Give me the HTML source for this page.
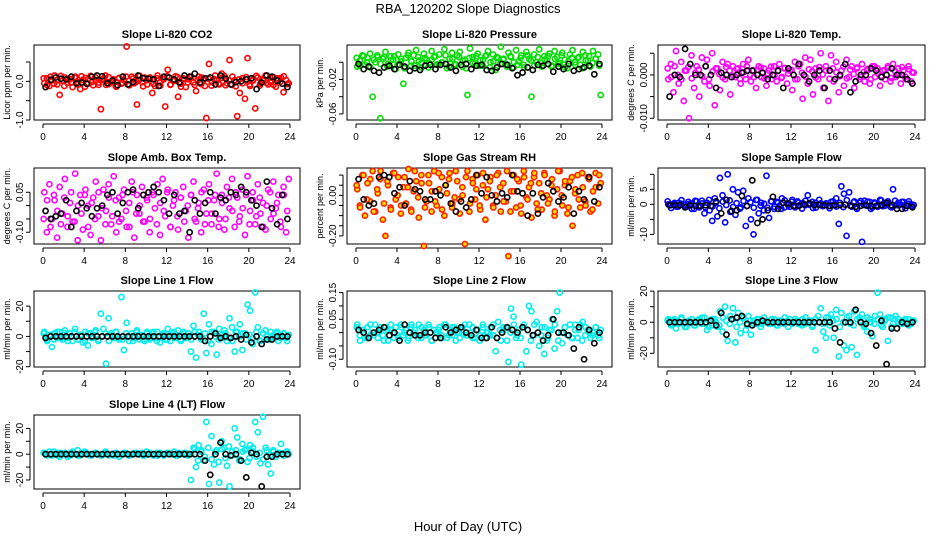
<!DOCTYPE html>
<html><head><meta charset="utf-8">
<style>
html,body{margin:0;padding:0;background:#fff;}
svg{display:block;font-family:"Liberation Sans",Arial,sans-serif;}
</style></head>
<body>
<svg id="chart" width="936" height="540" viewBox="0 0 936 540">
<text x="468" y="13" text-anchor="middle" font-size="13">RBA_120202  Slope Diagnostics</text>
<text x="468" y="531" text-anchor="middle" font-size="13">Hour of Day (UTC)</text>
</svg>
<script>
// ---- data arrays (values in panel units, see scale) ----
const hourTicks = [0,4,8,12,16,20,24];
const co2Color = [-5,8,-12,3,15,-8,-35,2,10,-4,6,-15,12,-2,-20,4,9,-6,14,-10,2,-3,-72,7,-9,11,-1,5,-14,8,-6,3,90,-10,12,-5,-60,4,-2,10,-8,6,-30,-12,15,-3,7,-65,30,-9,2,13,-40,-6,8,-15,5,10,-3,-25,12,-7,4,-95,45,-11,6,2,-8,20,14,-5,55,-9,3,-90,-30,8,-45,60,-12,4,-70,10,-6,2,15,-8,-3,11,-14,6,9,-28,3,-5];
const co2Core = [8,-10,12,-6,3,14,-12,5,-3,10,-8,13,-14,6,-2,11,-9,4,15,-7,2,-12,9,-4,12,-10,7,-1,14,-13,3,10,-6,8,-11,5,13,-8,1,11,-14,6,-3,12,-9,4,10,-12,7,-2,15,-6,9,-10,3,12,-13,5,-5,11,-8,2,14,-11,6,-4,10,-9,8,-1,13,-7];
const co2Black = [-15,4,10,7,5,12,-5,-3,-6,12,15,13,-5,2,-10,12,-8,-2,15,8,7,5,-12,12,10,5,-3,15,12,20,-3,8,10,-8,15,7,-8,-2,0,5,8,-20,-3,15,12,2,-6,-15];
const presColor = [-5,2,8,-3,5,10,-40,0,6,-65,4,12,-2,7,3,-8,9,1,-25,5,11,-4,8,14,2,-6,10,3,-1,13,6,-3,9,0,15,-7,4,11,-2,8,12,-5,3,-38,16,6,-1,10,2,-4,7,13,0,9,-9,5,18,3,-2,11,6,-6,14,1,8,-3,12,4,-40,9,0,15,-5,7,2,10,-4,13,6,-1,11,3,-7,9,14,0,5,-3,12,8,2,-5,13,4,9,-38];
const presCore = [5,-4,7,0,-6,3,8,-2,6,-5,2,7,-3,4,-7,8,1,-4,6,-1,5,-6,3,7,-2,0,8,-5,4,-3,6,2,-7,5,-1,7,-4,3,8,-6,1,6,-2,4,-5,7,0,-3,5,-6,8,2,-4,6,-1,3,7,-5,4,-2,8,-6,1,5,-3,6,-7,2,7,-1,4,-4];
const presBlack = [-2,-8,-5,-10,-12,-6,-4,-8,-3,-5,-10,-7,-9,-4,-3,-8,-3,-2,-6,-10,-3,-2,-8,-4,-3,-9,-10,-6,-2,-3,-7,-15,-12,-6,-9,-3,-4,-2,-11,-5,-8,-2,-10,-8,-6,-4,-14,-2];
const tempColor = [-10,25,-40,55,-20,30,-60,10,-100,45,-30,20,-50,40,-15,35,-25,50,-70,15,-35,30,-10,25,-45,20,-5,15,-20,25,-10,35,-15,10,-30,20,-5,15,-25,10,-10,20,-15,25,-5,15,-20,10,-35,30,-10,25,-55,40,-20,35,-45,15,-10,50,-30,20,-60,45,-15,30,-40,10,-25,35,-5,20,-30,15,-10,25,-15,10,-20,20,-5,15,-25,10,-10,20,-15,25,-5,15,-20,10,-10,20,-15,5];
const tempCore = [15,-5,20,0,-10,10,18,-8,5,12,-3,20,-10,8,15,2,-6,18,10,-2,14,-9,6,20,0,-5,12,17,-8,4,19,-1,9,-7,16,3,11,-10,20,5,-4,13,8,-6,18,1,10,-9,15,6,-3,19,-8,12,2,17,-5,7,14,-10,20,4,-2,11,16,-7,9,0,18,-4,13,6];
const tempBlack = [-50,0,-5,60,25,0,0,20,0,-30,5,0,-5,0,5,10,10,0,5,-10,0,10,-30,15,0,25,0,-15,0,10,-30,10,-10,0,25,-40,-15,0,0,15,10,-5,0,15,0,0,-10,-20];
const ambColor = [5,-10,8,-5,2,-12,7,-3,10,-8,1,-6,12,-13,4,-9,6,0,-11,3,9,-4,-13,6,-2,8,-7,11,-10,3,-5,6,-8,1,9,-12,4,-3,7,-6,2,-10,5,-1,8,-11,10,-4,6,-8,0,5,-9,3,7,-2,-12,4,9,-6,1,-10,6,-3,8,-7,2,12,-5,4,-9,7,-1,10,-8,3,-4,6,-11,11,-2,5,-7,8,-3,1,-9,6,-5,9,-1,4,-8,7,-10,10];
const ambCore = [-5,2,-8,4,-2,-7,3,-4,5,-6,0,-3,4,-8,1,-5,5,-1,-7,3,-4,2,-6,4,-2,-8,5,-3,0,-6,3,-5,4,-7,1,-2,5,-8,2,-4,3,-6,0,4,-5,-1,5,-7,2,-3,4,-8,1,-5,3,-2,5,-6,-1,4,-7,2,-4,3,-8,0,5,-3,1,-6,4,-2];
const ambBlack = [-2,-5,-4,-3,2,-8,-2,1,-1,-4,-1,0,4,5,-3,1,5,6,-1,4,5,7,5,2,-3,4,-3,-2,-10,2,-3,1,5,-3,3,2,5,4,7,5,2,0,-8,9,-1,-7,4,-5];
const rhColor = [3,-5,10,-10,6,-3,12,-8,1,8,-12,-20,5,-6,11,-2,9,-9,4,-4,13,-7,2,7,-11,10,-25,-3,6,-8,12,-5,3,9,-10,1,11,-6,-1,7,-9,4,-24,12,-4,8,-2,10,-7,5,-12,3,9,-5,0,11,-8,6,-3,-30,2,10,-6,7,-9,12,-1,4,-11,9,-4,6,-7,11,0,-2,8,-10,3,12,-5,5,-9,7,-15,1,10,-6,4,-3,9,-8,2,11,-4,6];
const rhCore = [5,-6,10,-2,8,-8,3,12,-4,7,-7,11,0,-5,9,4,-8,12,-1,6,-6,10,2,-3,11,-7,5,8,-4,12,-2,0,9,-8,6,3,-5,11,-1,7,-6,10,4,-3,12,-8,2,8,-5,9,-2,6,11,-7,1,10,-4,5,-8,12,0,7,-6,9,3,-2,11,-5,8,-7,4,10];
const rhBlack = [8,-2,-5,-4,9,10,9,1,4,-5,7,3,2,-2,-2,2,0,5,-4,-8,-3,-6,-2,10,1,9,0,-3,1,-1,10,2,1,-10,1,-9,-1,6,2,-3,-1,4,-9,2,-2,9,-3,4];
const sampColor = [0,-3,1,-7,5,2,-2,-8,1,3,-15,10,-10,12,-30,5,-20,-55,20,-40,88,30,-60,100,-25,50,-35,40,-10,45,-72,20,-50,-100,15,-30,5,-20,95,-45,10,-15,8,-5,20,-10,3,-8,15,-5,10,-2,4,-3,30,2,-12,5,-1,3,-5,1,-6,8,-2,20,-65,60,35,-105,40,-8,10,-15,5,-125,12,-5,8,-10,3,-4,15,-6,2,10,-8,50,-3,5,-1,8,-4,2,0,-2];
const sampCore = [10,-12,5,-8,14,-3,8,-15,12,-5,3,-10,15,-7,6,-13,9,-2,13,-9,4,-14,11,-6,7,-11,15,-4,2,-12,10,-8,5,-15,13,-3,9,-10,6,-14,12,-1,8,-11,15,-6,3,-13,10,-7,5,-9,14,-4,7,-12,11,-2,9,-15,6,-8,13,-5,4,-10,12,-3,8,-13,10,-6];
const sampBlack = [-3,-3,-3,-10,-3,-5,-5,-3,-5,10,-30,15,-22,-20,28,-5,80,-62,-50,-20,25,-15,5,3,-5,-5,0,3,-2,-2,-3,-5,-3,-2,-1,-5,-8,-5,-3,-5,-5,-3,5,-3,-15,-15,-5,-10];
const l1Color = [3,-2,1,-7,2,-1,3,-2,4,-1,2,-3,5,-2,1,-4,3,-6,2,-1,4,-3,15,5,-18,12,2,-1,3,-2,26,-9,9,-3,2,-1,4,-2,1,-3,3,-2,2,-1,3,-4,1,-2,5,-3,2,-1,4,-2,3,-1,2,-10,7,-14,3,-2,15,-11,8,-5,3,-12,5,-1,4,-3,12,6,-10,3,8,-9,2,21,17,-5,29,6,-3,2,4,-2,3,-1,2,-3,1,2,-1,1];
const l1Core = [2,-3,1,-2,3,-1,2,-3,0,3,-2,1,-3,2,-1,3,-2,0,2,-3,1,3,-1,-2,2,0,-3,3,1,-2,2,-1,3,-3,0,2,-2,1,3,-1,-3,2,0,-2,3,1,-1,2,-3,3,0,-2,1,2,-1,-3,3,0,2,-2,1,-1,3,-3,2,0,-2,1,3,-1,2,-3];
const l1Black = [-1,0,0,0,0,0,0,0,0,0,0,0,0,0,0,0,0,0,0,0,0,0,0,0,0,0,0,0,0,0,0,-3,0,2,-1,0,-1,0,-2,1,-4,0,-5,-2,-2,0,0,0];
const l2Color = [3,-1,1,-2,2,-1,0,3,-2,1,-1,2,-3,1,0,2,-2,3,-1,1,-2,2,0,-1,3,-2,1,-1,2,-3,1,0,2,-1,3,-2,1,-1,2,0,-2,1,3,-1,0,2,-2,1,-1,3,-2,0,2,-1,-7,4,-3,1,2,-11,9,6,-2,1,-12,3,-7,10,8,-1,4,-5,2,-8,-3,1,5,-6,8,15,-4,2,-1,3,-2,1,-2,3,4,-1,1,-2,0,2,-1,1];
const l2Core = [2,-3,1,-2,3,-1,0,2,-3,1,3,-2,-1,2,0,-3,3,1,-2,2,-1,3,-3,0,1,-2,3,-1,2,-3,0,2,-1,3,-2,1,-3,2,0,-1,3,-2,1,2,-3,0,3,-1,-2,2,1,-3,3,0,-1,2,-2,1,3,-3,0,2,-1,-2,3,1,-3,2,0,-1,2,-2];
const l2Black = [1,0,-2,0,1,2,-1,0,-3,3,0,-1,-1,0,0,-2,-2,2,0,1,2,0,-1,1,-2,-2,2,-2,0,2,1,0,2,1,-1,0,-3,-1,5,0,0,-1,-6,2,-10,1,-4,0];
const l3Color = [2,-1,1,-4,0,2,-1,-3,1,0,-2,1,2,-1,3,-5,1,-2,2,-3,7,-6,10,-12,4,9,-13,6,-7,3,-5,4,-8,1,-1,2,-1,0,1,-1,2,0,-2,1,0,-1,1,2,-1,0,1,-1,2,-1,0,1,-2,-18,4,9,-6,-10,3,5,-10,8,-22,6,-15,-18,4,-16,7,-21,3,5,-2,-6,2,-9,4,19,5,-3,2,-12,3,-1,4,2,-1,1,0,2,-1,1];
const l3Core = [1,-2,2,-1,3,-3,0,2,-2,1,3,-1,-3,2,0,-2,3,1,-1,2,-3,0,3,-2,1,-1,2,-3,3,0,-1,2,-2,1,3,-3,0,2,-1,-2,3,1,-3,2,0,-1,3,-2,1,2,-3,0,3,-1,-2,2,1,-3,3,0,-1,2,-2,1,3,-3,2,0,-1,2,-2,1];
const l3Black = [0,0,0,0,0,0,0,0,1,-2,6,-8,2,3,4,-1,-2,0,1,0,0,0,0,0,0,0,0,0,0,0,0,0,-4,-13,0,0,8,0,-1,-7,-15,1,-27,-4,-4,0,-1,0];
const l4Color = [1,0,2,-1,0,1,-2,0,1,0,-1,2,0,3,-1,0,1,0,-1,0,1,0,-1,0,1,0,0,-1,1,0,0,1,0,-1,0,1,0,0,1,-1,0,1,0,0,-1,1,0,0,1,0,0,-1,1,0,0,1,0,-20,5,-10,7,2,-5,25,-23,14,-8,3,-22,10,5,-9,-25,2,20,13,-4,8,3,-6,7,2,25,17,-7,29,5,-8,-15,3,-2,1,8,-1,2,0];
const l4Core = [1,-1,0,2,-1,1,0,-2,1,0,-1,1,2,0,-1,1,0,-1,2,-1,0,1,-2,0,1,-1,0,1,0,-1,2,0,-1,1,0,-1,1,0,2,-1,0,1,-1,0,4,-5,3,-2,5,-4,2,-6,4,-3,6,-1,3,-5,2,4,-3,5,-2,1,-4,3,-1,2,0,1,-1,2];
const l4Black = [0,0,0,0,0,0,0,0,0,0,0,0,0,0,0,0,0,0,0,0,0,0,0,0,0,0,0,0,0,0,0,-5,-16,0,9,0,-1,0,-5,-18,1,0,-25,-2,-2,0,0,0];
const co2Ticks=[-1.0,-0.5,0.0,0.5], co2Labels=["-1.0","","0.0",""];
const presTicks=[-0.06,-0.04,-0.02,0.0], presLabels=["-0.06","","-0.02",""];
const tempTicks=[-0.010,-0.005,0.0,0.005], tempLabels=["-0.010","","0.000",""];
const ambTicks=[-0.10,-0.05,0.0,0.05], ambLabels=["-0.10","","","0.05"];
const rhTicks=[-0.20,-0.15,-0.10,-0.05,0.0,0.05,0.10], rhLabels=["-0.20","","","","0.00","",""];
const sampTicks=[-10,-5,0,5,10], sampLabels=["-10","","0","5",""];
const l1Ticks=[-20,-10,0,10,20], l1Labels=["-20","","0","","20"];
const l2Ticks=[-0.10,-0.05,0.0,0.05,0.10,0.15], l2Labels=["-0.10","","","0.05","","0.15"];
const l3Ticks=[-20,-10,0,10,20], l3Labels=["-20","","0","","20"];
const l4Ticks=[-20,-10,0,10,20], l4Labels=["-20","","0","","20"];

const NS="http://www.w3.org/2000/svg";
const svg=document.getElementById('chart');
function mk(tag,attrs,parent){const e=document.createElementNS(NS,tag);for(const k in attrs)e.setAttribute(k,attrs[k]);(parent||svg).appendChild(e);return e;}

const cols=[{l:34,r:300},{l:347,r:612},{l:658,r:925}];
const rows=[{t:45,b:120},{t:168,b:244},{t:291,b:367},{t:415,b:489}];
const panels=[
 {key:'co2',title:'Slope Li-820 CO2',ylab:'Licor ppm per min.',c:0,r:0,min:-1.0,max:0.94,scale:0.01,col:'#ff0000',fill:null,color:co2Color,core:co2Core,black:co2Black,ticks:co2Ticks,labels:co2Labels},
 {key:'pressure',title:'Slope Li-820 Pressure',ylab:'kPa per min.',c:1,r:0,min:-0.067,max:0.020,scale:0.001,col:'#00dd00',fill:null,color:presColor,core:presCore,black:presBlack,ticks:presTicks,labels:presLabels},
 {key:'temp',title:'Slope Li-820 Temp.',ylab:'degrees C per min.',c:2,r:0,min:-0.0104,max:0.0069,scale:0.0001,col:'#ff00ff',fill:null,color:tempColor,core:tempCore,black:tempBlack,ticks:tempTicks,labels:tempLabels},
 {key:'amb',title:'Slope Amb. Box Temp.',ylab:'degrees C per min.',c:0,r:1,min:-0.144,max:0.141,scale:0.01,col:'#ff00ff',fill:null,color:ambColor,core:ambCore,black:ambBlack,ticks:ambTicks,labels:ambLabels},
 {key:'rh',title:'Slope Gas Stream RH',ylab:'percent per min.',c:1,r:1,min:-0.24,max:0.135,scale:0.01,col:'#ff2200',fill:'#ffdd00',color:rhColor,core:rhCore,black:rhBlack,ticks:rhTicks,labels:rhLabels},
 {key:'sample',title:'Slope Sample Flow',ylab:'ml/min per min.',c:2,r:1,min:-13.2,max:12.1,scale:0.1,col:'#0000ff',fill:null,color:sampColor,core:sampCore,black:sampBlack,ticks:sampTicks,labels:sampLabels},
 {key:'line1',title:'Slope Line 1 Flow',ylab:'ml/min per min.',c:0,r:2,min:-20.2,max:30,scale:1,col:'#00eeee',fill:null,color:l1Color,core:l1Core,black:l1Black,ticks:l1Ticks,labels:l1Labels},
 {key:'line2',title:'Slope Line 2 Flow',ylab:'ml/min per min.',c:1,r:2,min:-0.129,max:0.156,scale:0.01,col:'#00eeee',fill:null,color:l2Color,core:l2Core,black:l2Black,ticks:l2Ticks,labels:l2Labels},
 {key:'line3',title:'Slope Line 3 Flow',ylab:'ml/min per min.',c:2,r:2,min:-28.8,max:20.1,scale:1,col:'#00eeee',fill:null,color:l3Color,core:l3Core,black:l3Black,ticks:l3Ticks,labels:l3Labels},
 {key:'line4',title:'Slope Line 4 (LT) Flow',ylab:'ml/min per min.',c:0,r:3,min:-27,max:30.4,scale:1,col:'#00eeee',fill:null,color:l4Color,core:l4Core,black:l4Black,ticks:l4Ticks,labels:l4Labels}
];

panels.forEach(p=>{
  const L=cols[p.c].l,R=cols[p.c].r,T=rows[p.r].t,B=rows[p.r].b;
  const x0=L+9,x1=R-10;
  const xs=h=>x0+(h/24)*(x1-x0);
  const ys=v=>B-(v-p.min)/(p.max-p.min)*(B-T);
  const g=mk('g',{});
  
  
  const cx=(L+R)/2;
  const t=mk('text',{x:cx,y:T-7,'text-anchor':'middle','font-size':11,'font-weight':'bold'},g);t.textContent=p.title;
  
  
  const box=mk('rect',{x:L,y:T,width:R-L,height:B-T,fill:'none',stroke:'#000','stroke-width':1},g);
  
  
  const xa=mk('g',{},g);
  
  
  mk('line',{x1:xs(0),x2:xs(24),y1:B+4,y2:B+4,stroke:'#000'},xa);
  hourTicks.forEach(h=>{
    mk('line',{x1:xs(h),x2:xs(h),y1:B+4,y2:B+8,stroke:'#000'},xa);
    const tl=mk('text',{x:xs(h),y:B+20,'text-anchor':'middle','font-size':10},xa);tl.textContent=h;
    
    
  });
  const ya=mk('g',{},g);
  
  
  const yt0=ys(p.ticks[0]),yt1=ys(p.ticks[p.ticks.length-1]);
  mk('line',{x1:L-4,x2:L-4,y1:yt0,y2:yt1,stroke:'#000'},ya);
  p.ticks.forEach((v,i)=>{
    const y=ys(v);
    mk('line',{x1:L-8,x2:L-4,y1:y,y2:y,stroke:'#000'},ya);
    if(p.labels[i]){
      const tl=mk('text',{x:0,y:0,'text-anchor':'middle','font-size':10,transform:`translate(${L-11},${y}) rotate(-90)`},ya);
      tl.textContent=p.labels[i];
      
      
    }
  });
  const yl=mk('text',{x:0,y:0,'text-anchor':'middle','font-size':9,transform:`translate(${L-24},${(T+B)/2}) rotate(-90)`},g);
  yl.textContent=p.ylab;
  
  
  const pts=mk('g',{},g);
  
  
  [p.color,p.core].forEach((arr,k)=>{
    const n=arr.length;
    arr.forEach((v,i)=>{
      const c=mk('circle',{cx:xs((i+0.5-k*0.3)*24/n),cy:ys(v*p.scale),r:2.6,fill:p.fill||'none',stroke:p.col,'stroke-width':1.6},pts);
      
      
    });
  });
  const bp=mk('g',{},g);
  
  
  const m=p.black.length;
  p.black.forEach((v,i)=>{
    const c=mk('circle',{cx:xs((i+0.5)*24/m),cy:ys(v*p.scale),r:2.6,fill:'none',stroke:'#000','stroke-width':1.6},bp);
    
    
  });
});
</script>
</body></html>
